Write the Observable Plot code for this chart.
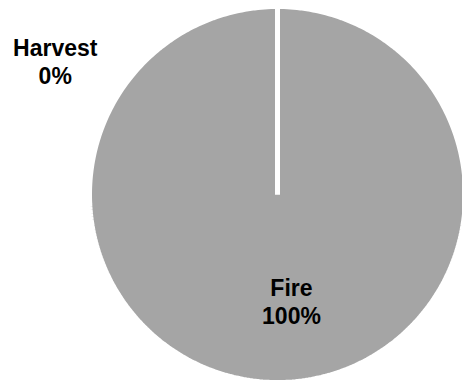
<!DOCTYPE html>
<html>
<head>
<meta charset="utf-8">
<script src="https://cdn.jsdelivr.net/npm/d3@7"></script>
<script src="https://cdn.jsdelivr.net/npm/@observablehq/plot@0.6"></script>
<style>
  html, body { margin: 0; padding: 0; background: #fff; }
  #chart svg { display: block; }
</style>
</head>
<body>
<div id="chart"></div>
<script>
// ---- data ----
const categories = ["Fire", "Harvest"];
const values = [100, 0];
const percentLabels = ["100%", "0%"];

// ---- layout (pixels) ----
const W = 462, H = 381;
const cx = 277, cy = 194;      // pie centre
const R = 188;                 // path radius (white stroke trims it)
const labelPos = {             // label anchor offsets from centre (in radius units)
  Fire: [0.075, -0.44],
  Harvest: [-1.195, 0.85]
};

const pie = d3.pie().sort(null).value(d => d)(values);

const pts = [];
pie.forEach((s, i) => {
  const name = categories[i];
  pts.push({name, x: 0, y: 0});
  const n = Math.max(2, Math.ceil((s.endAngle - s.startAngle) / (2 * Math.PI) * 360));
  for (let k = 0; k <= n; k++) {
    const a = s.startAngle + (s.endAngle - s.startAngle) * k / n;
    pts.push({name, x: R * Math.sin(a), y: R * Math.cos(a)});
  }
});

const labels = categories.map((c, i) => ({
  text: c + "\n" + percentLabels[i],
  x: labelPos[c][0] * 186,
  y: labelPos[c][1] * 186
}));

const chart = Plot.plot({
  width: W,
  height: H,
  margin: 0,
  x: {domain: [-cx, W - cx], range: [0, W], axis: null},
  y: {domain: [-(H - cy), cy], range: [H, 0], axis: null},
  style: {background: "#fff"},
  marks: [
    Plot.line(pts, {
      x: "x", y: "y", z: "name",
      curve: "linear-closed",
      fill: "#a5a5a5",
      stroke: "#ffffff",
      strokeWidth: 5,
      strokeLinejoin: "miter"
    }),
    Plot.text(labels, {
      x: "x", y: "y", text: "text",
      textAnchor: "middle",
      lineAnchor: "top",
      lineHeight: 1.2,
      fontSize: 23,
      fontWeight: "bold",
      fontFamily: "Liberation Sans, Arial, sans-serif",
      fill: "#000"
    })
  ]
});
document.getElementById("chart").appendChild(chart);
</script>
</body>
</html>
